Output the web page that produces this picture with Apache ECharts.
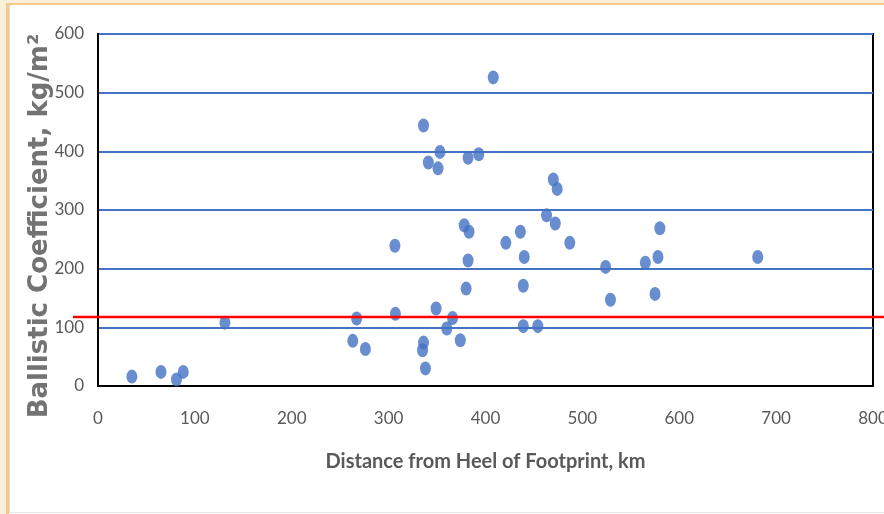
<!DOCTYPE html>
<html>
<head>
<meta charset="utf-8">
<script src="https://cdn.jsdelivr.net/npm/echarts@6/dist/echarts.min.js"></script>
<style>
  html, body { margin: 0; padding: 0; }
  body { width: 884px; height: 514px; background: #faf0da; position: relative; overflow: hidden; }
  .sheet {
    position: absolute; left: 6px; top: 3px; right: 0; bottom: 0;
    background: #fff; border-left: 3px solid #f7c98c; border-top: 2px solid #f7c98c;
  }
  .sheet-inner { position: absolute; left: 0; top: 0; right: 0; bottom: 1px; border-left: 1px solid #ddd; border-bottom: 1px solid #e6e6e6; }
  #chart { position: absolute; left: 0; top: 0; width: 884px; height: 514px; }
</style>
</head>
<body>
<div class="sheet"><div class="sheet-inner"></div></div>
<div id="chart"></div>
<script>
// distance from heel (km), ballistic coefficient (kg/m2)
const distances = [35, 65, 81, 88, 131, 263, 267, 276, 306.5, 307, 336, 353, 341, 351,
  336, 335, 338, 349, 360, 366, 374, 408, 382, 393, 470, 474, 463, 472,
  378, 383, 421, 436, 487, 382, 440, 380, 439, 439, 454,
  580, 524, 565, 578, 681, 529, 575];
const coefficients = [16, 24, 11, 24, 108, 77, 115, 63, 239, 123, 444, 399, 381, 371,
  74, 61, 30, 132, 98, 116, 78, 526, 389, 395, 352, 336, 291, 277,
  274, 263, 244, 263, 244, 214, 220, 166, 171, 102, 102,
  269, 203, 210, 220, 220, 147, 157];
const xTicks = [0, 100, 200, 300, 400, 500, 600, 700, 800];
const yTicks = [0, 100, 200, 300, 400, 500, 600];
const threshold = 117.5;

const points = distances.map((d, i) => [d, coefficients[i]]);

const chart = echarts.init(document.getElementById('chart'));
const tickFont = { color: '#595959', fontFamily: 'Lato', fontSize: 17 };

const option = {
  animation: false,
  grid: [
    { left: 98, right: 11, top: 34, bottom: 128, outerBoundsMode: 'none', show: true, borderColor: '#000', borderWidth: 2 },
    { left: 73, right: 0, top: 34, bottom: 128, outerBoundsMode: 'none' }
  ],
  xAxis: [{
    type: 'value',
    min: xTicks[0],
    max: xTicks[xTicks.length - 1],
    interval: 100,
    axisLine: { lineStyle: { color: '#000', width: 2 } },
    axisTick: { show: false },
    splitLine: { show: false },
    axisLabel: Object.assign({ margin: 24 }, tickFont),
    name: 'Distance from Heel of Footprint, km',
    nameLocation: 'middle',
    nameGap: 66,
    nameTextStyle: { color: '#595959', fontFamily: 'Lato', fontSize: 20, fontWeight: 'bold' }
  }, {
    gridIndex: 1, type: 'value', min: 0, max: 1, show: false
  }],
  yAxis: [{
    type: 'value',
    min: yTicks[0],
    max: yTicks[yTicks.length - 1],
    interval: 100,
    axisLine: { show: true, lineStyle: { color: '#000', width: 2 } },
    axisTick: { show: false },
    splitLine: { lineStyle: { color: '#4472c4', width: 2 } },
    axisLabel: Object.assign({ margin: 14 }, tickFont)
  }, {
    gridIndex: 1, type: 'value', min: yTicks[0], max: yTicks[yTicks.length - 1], show: false
  }],
  graphic: [{
    type: 'text',
    x: 40,
    y: 226,
    rotation: Math.PI / 2,
    style: {
      text: 'Ballistic Coefficient, kg/m²',
      align: 'center',
      verticalAlign: 'middle',
      fill: '#737373',
      font: 'bold 26px "DejaVu Sans"'
    }
  }],
  series: [{
    type: 'scatter',
    data: points,
    symbol: 'circle',
    symbolSize: [11, 14],
    itemStyle: { color: '#4472c4' },
    z: 3
  }, {
    type: 'line',
    xAxisIndex: 1,
    yAxisIndex: 1,
    data: [[0, threshold], [1, threshold]],
    symbol: 'none',
    lineStyle: { color: '#ff0000', width: 2.5 },
    z: 4
  }]
};

chart.setOption(option);
</script>
</body>
</html>
